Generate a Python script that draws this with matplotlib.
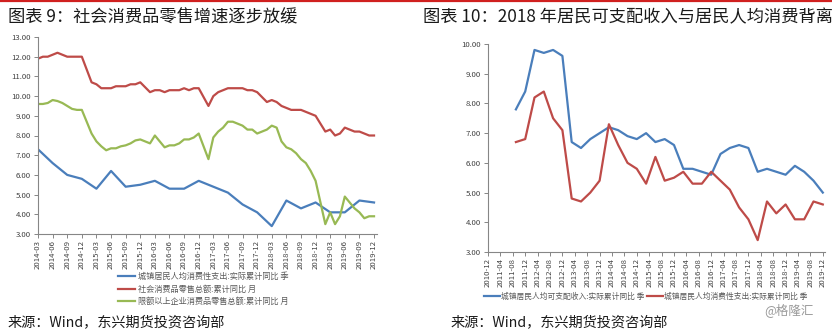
import numpy as np
import pandas as pd
import matplotlib
matplotlib.use('Agg')
import matplotlib.pyplot as plt
from matplotlib.lines import Line2D

plt.rcParams['font.family'] = ['Noto Sans CJK SC', 'DejaVu Sans']

# ---- data: left chart (monthly, Jan missing) ----
retail_total = [11.9, 12.0, 12.0, 12.1, 12.2, 12.1, 12.0, 12.0, 12.0, 12.0,
                10.7, 10.6, 10.4, 10.4, 10.4, 10.5, 10.5, 10.5, 10.6, 10.6, 10.7,
                10.2, 10.3, 10.3, 10.2, 10.3, 10.3, 10.3, 10.4, 10.3, 10.4, 10.4,
                9.5, 10.0, 10.2, 10.3, 10.4, 10.4, 10.4, 10.4, 10.3, 10.3, 10.2,
                9.7, 9.8, 9.7, 9.5, 9.4, 9.3, 9.3, 9.3, 9.2, 9.1, 9.0,
                8.2, 8.3, 8.0, 8.1, 8.4, 8.3, 8.2, 8.2, 8.1, 8.0, 8.0]
retail_above = [9.6, 9.6, 9.65, 9.8, 9.75, 9.65, 9.5, 9.35, 9.3, 9.3,
                8.1, 7.7, 7.45, 7.25, 7.35, 7.35, 7.45, 7.5, 7.6, 7.75, 7.8,
                7.6, 8.0, 7.7, 7.4, 7.5, 7.5, 7.6, 7.8, 7.8, 7.9, 8.1,
                6.8, 7.9, 8.2, 8.4, 8.7, 8.7, 8.6, 8.5, 8.3, 8.3, 8.1,
                8.3, 8.5, 8.4, 7.7, 7.4, 7.3, 7.1, 6.8, 6.6, 6.2, 5.7,
                3.5, 4.1, 3.5, 3.9, 4.9, 4.6, 4.3, 4.1, 3.8, 3.9, 3.9]

# ---- data: quarterly, 2011-09 .. 2019-12 ----
income = [7.8, 8.4, 9.8, 9.7, 9.8, 9.6, 6.7, 6.5, 6.8, 7.0, 7.2, 7.1, 6.9, 6.8,
          7.0, 6.7, 6.8, 6.6, 5.8, 5.8, 5.7, 5.6, 6.3, 6.5, 6.6, 6.5, 5.7, 5.8,
          5.7, 5.6, 5.9, 5.7, 5.4, 5.0]
consumption = [6.7, 6.8, 8.2, 8.4, 7.5, 7.1, 4.8, 4.7, 5.0, 5.4, 7.3, 6.6, 6.0,
               5.8, 5.3, 6.2, 5.4, 5.5, 5.7, 5.3, 5.3, 5.7, 5.4, 5.1, 4.5, 4.1,
               3.4, 4.7, 4.3, 4.6, 4.1, 4.1, 4.7, 4.6]

lbl_cons = '城镇居民人均消费性支出:实际累计同比 季'
lbl_total = '社会消费品零售总额:累计同比 月'
lbl_above = '限额以上企业消费品零售总额:累计同比 月'
lbl_income = '城镇居民人均可支配收入:实际累计同比 季'

BLUE, RED, GREEN = '#4A7EBB', '#BE4B48', '#98B954'
AXC, TXC = '#868686', '#404040'

W, H = 832, 330
fig = plt.figure(figsize=(W / 100, H / 100), dpi=100)

def px_axes(x0, y0, x1, y1):
    return fig.add_axes([x0 / W, 1 - y1 / H, (x1 - x0) / W, (y1 - y0) / H])

def style(ax):
    for s in ['top', 'right']:
        ax.spines[s].set_visible(False)
    for s in ['left', 'bottom']:
        ax.spines[s].set_color(AXC)
        ax.spines[s].set_linewidth(0.8)
    ax.tick_params(colors=AXC, labelcolor=TXC, labelsize=5.6, length=3, width=0.7)
    ax.tick_params(axis='x', labelrotation=90, pad=1.5)
    ax.tick_params(axis='y', pad=2)

def month_idx(periods, start):
    return np.array([(p.year - start.year) * 12 + p.month - start.month for p in periods])

# ---- left chart ----
start_l = pd.Period('2014-03', 'M')
months_l = [p for p in pd.period_range('2014-03', '2019-12', freq='M') if p.month != 1]
x_month = month_idx(months_l, start_l)
quarters = pd.period_range('2011-09', '2019-12', freq='3M')
q_idx_l = month_idx(quarters, start_l)
keep = q_idx_l >= 0

axl = px_axes(38, 37, 38 + 69.6 * 4.87, 234)
axl.plot(q_idx_l[keep], np.array(consumption)[keep], color=BLUE, lw=1.6, label=lbl_cons)
axl.plot(x_month, retail_total, color=RED, lw=1.6, label=lbl_total)
axl.plot(x_month, retail_above, color=GREEN, lw=1.6, label=lbl_above)
axl.set_ylim(3, 13)
axl.set_yticks(np.arange(3, 13.1, 1))
axl.yaxis.set_major_formatter(matplotlib.ticker.FormatStrFormatter('%.2f'))
axl.set_xlim(0, 69.6)
ticks_l = pd.period_range('2014-03', '2019-12', freq='3M')
axl.set_xticks(month_idx(ticks_l, start_l))
axl.set_xticklabels([str(p) for p in ticks_l])
style(axl)
axl.legend(loc='center', bbox_to_anchor=(203 / W, 1 - 289 / H), bbox_transform=fig.transFigure,
           frameon=False, fontsize=5.9, handlelength=2.1, handletextpad=0.35,
           labelspacing=0.45, labelcolor='#595959')

# ---- right chart ----
start_r = pd.Period('2010-12', 'M')
q_idx_r = month_idx(quarters, start_r)
axr = px_axes(488, 44, 488 + 108.6 * 3.1, 252)
axr.plot(q_idx_r, income, color=BLUE, lw=1.6, label=lbl_income)
axr.plot(q_idx_r, consumption, color=RED, lw=1.6, label=lbl_cons)
axr.set_ylim(3, 10)
axr.set_yticks(np.arange(3, 10.1, 1))
axr.yaxis.set_major_formatter(matplotlib.ticker.FormatStrFormatter('%.2f'))
axr.set_xlim(0, 108.6)
ticks_r = pd.period_range('2010-12', '2019-12', freq='4M')
axr.set_xticks(month_idx(ticks_r, start_r))
axr.set_xticklabels([str(p) for p in ticks_r])
style(axr)
axr.legend(loc='center', bbox_to_anchor=(646 / W, 1 - 297 / H), bbox_transform=fig.transFigure,
           ncol=2, frameon=False, fontsize=5.6, handlelength=2.0, handletextpad=0.2,
           columnspacing=0.3, labelcolor='#595959')

# ---- titles, sources ----
fig.add_artist(Line2D([0, 1], [1 - 1 / H, 1 - 1 / H], color='#D0201F', lw=1.6))
fig.text(8 / W, 1 - 17 / H, '图表 9：社会消费品零售增速逐步放缓', fontsize=12.4,
         va='center', ha='left', color='#1a1a1a')
fig.text(423 / W, 1 - 17 / H, '图表 10：2018 年居民可支配收入与居民人均消费背离', fontsize=12.4,
         va='center', ha='left', color='#1a1a1a')
fig.text(8 / W, 1 - 322 / H, '来源：Wind，东兴期货投资咨询部', fontsize=10.2,
         va='center', ha='left', color='#1a1a1a')
fig.text(451 / W, 1 - 322 / H, '来源：Wind，东兴期货投资咨询部', fontsize=10.2,
         va='center', ha='left', color='#1a1a1a')
fig.text(814 / W, 1 - 310 / H, '@格隆汇', fontsize=9, va='center', ha='right', color='#9a9a9a')

fig.savefig('out.png', dpi=100)
